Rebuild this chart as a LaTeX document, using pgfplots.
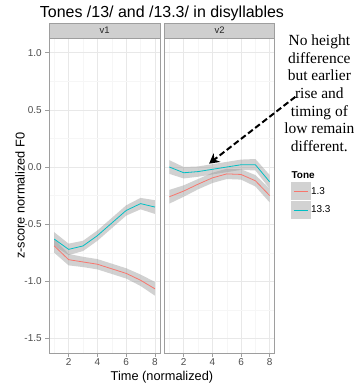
\documentclass[border=0pt]{standalone}
\usepackage{fontspec}
\setmainfont{Liberation Sans}
\newfontfamily\seriffont{Liberation Serif}
\usepackage{pgfplots}
\usepackage{pgfplotstable}
\pgfplotsset{compat=1.18}
\usetikzlibrary{arrows.meta,calc}

\definecolor{tred}{HTML}{F8766D}
\definecolor{tcyan}{HTML}{00BFC4}
\definecolor{gridmaj}{HTML}{E8E8E8}
\definecolor{gridmin}{HTML}{F6F6F6}
\definecolor{frame}{HTML}{9E9E9E}
\definecolor{stripfill}{HTML}{CFCFCF}
\definecolor{legfill}{HTML}{D2D2D2}
\definecolor{ticktext}{HTML}{4D4D4D}

% v1 lines
\pgfplotstableread{
x c r
1 -0.63 -0.69
2 -0.72 -0.81
3 -0.69 -0.83
4 -0.60 -0.85
5 -0.49 -0.89
6 -0.38 -0.93
7 -0.32 -0.99
8 -0.35 -1.065
}\vone
% v1 ribbons (upper band then lower band reversed)
\pgfplotstableread{
x c r
1 -0.57 -0.63
2 -0.67 -0.76
3 -0.645 -0.785
4 -0.555 -0.805
5 -0.445 -0.845
6 -0.335 -0.885
7 -0.27 -0.94
8 -0.29 -1.005
8 -0.41 -1.125
7 -0.37 -1.04
6 -0.425 -0.975
5 -0.535 -0.935
4 -0.645 -0.895
3 -0.735 -0.875
2 -0.77 -0.86
1 -0.69 -0.75
}\vonerib

% v2 lines
\pgfplotstableread{
x c r
1 0.00 -0.26
2 -0.05 -0.21
3 -0.04 -0.15
4 -0.02 -0.095
5 0.00 -0.06
6 0.02 -0.065
7 0.02 -0.12
8 -0.13 -0.25
}\vtwo
% v2 ribbons
\pgfplotstableread{
x c r
1 0.06 -0.20
2 0.00 -0.16
3 0.005 -0.105
4 0.025 -0.05
5 0.045 -0.015
6 0.065 -0.02
7 0.07 -0.07
8 -0.07 -0.19
8 -0.19 -0.31
7 -0.03 -0.17
6 -0.025 -0.11
5 -0.045 -0.105
4 -0.065 -0.14
3 -0.085 -0.195
2 -0.10 -0.26
1 -0.06 -0.32
}\vtworib

\pgfplotsset{
  panel/.style={
    scale only axis, width=111pt, height=315.7pt,
    xmin=0.65, xmax=8.35, ymin=-1.626, ymax=1.129,
    xtick={2,4,6,8}, minor xtick={1,3,5,7},
    ytick={-1.5,-1,-0.5,0,0.5,1}, minor ytick={-1.25,-0.75,-0.25,0.25,0.75},
    grid=both,
    major grid style={draw=gridmaj, line width=0.5pt},
    minor grid style={draw=gridmin, line width=0.4pt},
    axis line style={draw=frame, line width=0.6pt},
    tick pos=left, tick align=outside,
    major tick length=4pt, minor tick length=0pt,
    tick style={draw=frame, line width=0.6pt},
    tick label style={font=\fontsize{10}{12}\selectfont, text=ticktext},
    /pgf/number format/assume math mode=true,
    yticklabel style={/pgf/number format/.cd, fixed, fixed zerofill, precision=1},
    xticklabel style={inner sep=1pt},
  },
  rib/.style={fill=black!40, fill opacity=0.45, draw=none},
}

\begin{document}
\begin{tikzpicture}
\path (0,0) rectangle (358pt,386pt);

% legend key backgrounds
\fill[legfill] (291.7pt,185.3pt) rectangle (311.7pt,203.3pt);
\fill[legfill] (291.7pt,166.3pt) rectangle (311.7pt,184.3pt);

\begin{axis}[panel, name=p1, at={(49.3pt,32.3pt)}, anchor=south west]
  \addplot[rib, forget plot] table[x=x,y=c]{\vonerib};
  \addplot[rib, forget plot] table[x=x,y=r]{\vonerib};
  \addplot[color=tred, line width=0.8pt] table[x=x,y=r]{\vone};
  \addplot[color=tcyan, line width=0.8pt] table[x=x,y=c]{\vone};
\end{axis}

\begin{axis}[panel, name=p2, at={(164.7pt,32.3pt)}, anchor=south west, width=110.6pt,
  yticklabels={}, ytick style={draw=none},
  legend style={at={(rel axis cs:1.148,0.5417)}, anchor=north west, draw=none, fill=none,
    inner sep=0pt, outer sep=0pt, font=\fontsize{10}{12}\selectfont, row sep=1pt,
    nodes={inner sep=0pt}, /tikz/every even column/.append style={column sep=3pt}},
  legend cell align=left,
  legend image code/.code={\path[draw=none, fill=none] (0pt,-9pt) rectangle (20pt,9pt);
    \draw[#1] (3pt,0pt) -- (17pt,0pt);}]
  \addplot[rib, forget plot] table[x=x,y=c]{\vtworib};
  \addplot[rib, forget plot] table[x=x,y=r]{\vtworib};
  \addplot[color=tred, line width=0.8pt] table[x=x,y=r]{\vtwo};
  \addlegendentry{1.3}
  \addplot[color=tcyan, line width=0.8pt] table[x=x,y=c]{\vtwo};
  \addlegendentry{13.3}
\end{axis}

% strips
\draw[draw=frame, fill=stripfill, line width=0.6pt] (p1.north west) rectangle ([yshift=15pt]p1.north east);
\draw[draw=frame, fill=stripfill, line width=0.6pt] (p2.north west) rectangle ([yshift=15pt]p2.north east);
\node[font=\fontsize{9.5}{11}\selectfont, text=black!85] at ([yshift=7.5pt]$(p1.north west)!0.5!(p1.north east)$) {v1};
\node[font=\fontsize{9.5}{11}\selectfont, text=black!85] at ([yshift=7.5pt]$(p2.north west)!0.5!(p2.north east)$) {v2};

% title and labels
\node[font=\fontsize{16}{18}\selectfont] at (162.3pt,373pt) {Tones /13/ and /13.3/ in disyllables};
\node[font=\fontsize{12.8}{14}\selectfont] at (162.3pt,8.5pt) {Time (normalized)};
\node[font=\fontsize{12.8}{14}\selectfont, rotate=90] at (20pt,190pt) {z-score normalized F0};

% legend title
\node[font=\bfseries\fontsize{10}{12}\selectfont, anchor=west, inner sep=0pt] at (292pt,211pt) {Tone};

% annotation
\node[font=\seriffont\fontsize{15.5}{17.7}\selectfont, align=center] at (320pt,292.7pt)
  {No height\\difference\\but earlier\\rise and\\timing of\\low remain\\different.};
\draw[-{Stealth[length=10pt,width=11pt]}, line width=2pt, dash pattern=on 6pt off 3pt] (296pt,289pt) -- (209.5pt,222pt);
\end{tikzpicture}
\end{document}
